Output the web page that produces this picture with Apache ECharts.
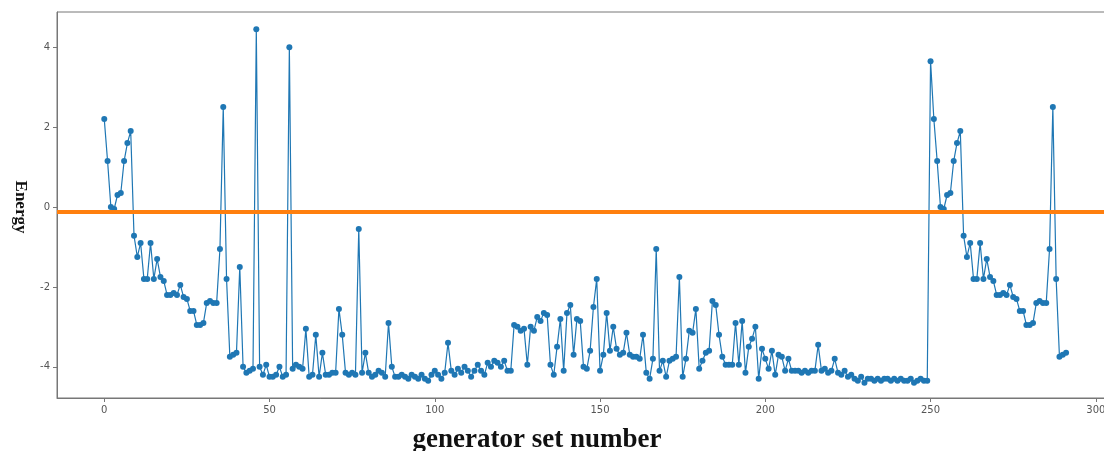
<!DOCTYPE html>
<html>
<head>
<meta charset="utf-8">
<script src="https://cdn.jsdelivr.net/npm/echarts@6/dist/echarts.min.js"></script>
<style>
html,body{margin:0;padding:0;background:#fff;overflow:hidden;width:1104px;height:451px;}
#c{width:1114px;height:451px;}
</style>
</head>
<body>
<div id="c"></div>
<script>
// ---- data ----
const xTicks = [0, 50, 100, 150, 200, 250, 300];
const yTicks = [-4, -2, 0, 2, 4];
const thresholdValue = -0.12;
// generator sets 0..49
const energyPart1 = [2.2, 1.15, 0.0, -0.05, 0.3, 0.35, 1.15, 1.6, 1.9, -0.72,
  -1.25, -0.9, -1.8, -1.8, -0.9, -1.8, -1.3, -1.75, -1.85, -2.2,
  -2.2, -2.15, -2.2, -1.95, -2.25, -2.3, -2.6, -2.6, -2.95, -2.95,
  -2.9, -2.4, -2.35, -2.4, -2.4, -1.05, 2.5, -1.8, -3.75, -3.7,
  -3.65, -1.5, -4.0, -4.15, -4.1, -4.05, 4.45, -4.0, -4.2, -3.95];
// 50..99
const energyPart2 = [-4.25, -4.25, -4.2, -4.0, -4.25, -4.2, 4.0, -4.05, -3.95, -4.0,
  -4.05, -3.05, -4.25, -4.2, -3.2, -4.25, -3.65, -4.2, -4.2, -4.15,
  -4.15, -2.55, -3.2, -4.15, -4.2, -4.15, -4.2, -0.55, -4.15, -3.65,
  -4.15, -4.25, -4.2, -4.1, -4.15, -4.25, -2.9, -4.0, -4.25, -4.25,
  -4.2, -4.25, -4.3, -4.2, -4.25, -4.3, -4.2, -4.3, -4.35, -4.2];
// 100..149
const energyPart3 = [-4.1, -4.2, -4.3, -4.15, -3.4, -4.1, -4.2, -4.05, -4.15, -4.0,
  -4.1, -4.25, -4.1, -3.95, -4.1, -4.2, -3.9, -4.0, -3.85, -3.9,
  -4.0, -3.85, -4.1, -4.1, -2.95, -3.0, -3.1, -3.05, -3.95, -3.0,
  -3.1, -2.75, -2.85, -2.65, -2.7, -3.95, -4.2, -3.5, -2.8, -4.1,
  -2.65, -2.45, -3.7, -2.8, -2.85, -4.0, -4.05, -3.6, -2.5, -1.8];
// 150..199
const energyPart4 = [-4.1, -3.7, -2.65, -3.6, -3.0, -3.55, -3.7, -3.65, -3.15, -3.7,
  -3.75, -3.75, -3.8, -3.2, -4.15, -4.3, -3.8, -1.05, -4.1, -3.85,
  -4.25, -3.85, -3.8, -3.75, -1.75, -4.25, -3.8, -3.1, -3.15, -2.55,
  -4.05, -3.85, -3.65, -3.6, -2.35, -2.45, -3.2, -3.75, -3.95, -3.95,
  -3.95, -2.9, -3.95, -2.85, -4.15, -3.5, -3.3, -3.0, -4.3, -3.55];
// 200..250
const energyPart5 = [-3.8, -4.05, -3.6, -4.2, -3.7, -3.75, -4.1, -3.8, -4.1, -4.1,
  -4.1, -4.15, -4.1, -4.15, -4.1, -4.1, -3.45, -4.1, -4.05, -4.15,
  -4.1, -3.8, -4.15, -4.2, -4.1, -4.25, -4.2, -4.3, -4.35, -4.25,
  -4.4, -4.3, -4.3, -4.35, -4.3, -4.35, -4.3, -4.3, -4.35, -4.3,
  -4.35, -4.3, -4.35, -4.35, -4.3, -4.4, -4.35, -4.3, -4.35, -4.35,
  3.65];
// 251..291
const energyPart6 = [2.2, 1.15, 0.0, -0.05, 0.3, 0.35, 1.15, 1.6, 1.9, -0.72,
  -1.25, -0.9, -1.8, -1.8, -0.9, -1.8, -1.3, -1.75, -1.85, -2.2,
  -2.2, -2.15, -2.2, -1.95, -2.25, -2.3, -2.6, -2.6, -2.95, -2.95,
  -2.9, -2.4, -2.35, -2.4, -2.4, -1.05, 2.5, -1.8, -3.75, -3.7,
  -3.65];

const energy = [].concat(energyPart1, energyPart2, energyPart3, energyPart4, energyPart5, energyPart6);
const seriesData = energy.map((v, i) => [i, v]);

const chart = echarts.init(document.getElementById('c'), null, {renderer: 'canvas'});
const tickFont = {fontFamily: 'DejaVu Sans', fontSize: 10, color: '#555'};
const axisLineStyle = {color: '#777', width: 1};

chart.setOption({
  animation: false,
  backgroundColor: '#ffffff',
  grid: {left: 57, right: 1, top: 12, bottom: 53, show: true, borderColor: '#777', borderWidth: 1,
         containLabel: false, outerBoundsMode: 'none'},
  xAxis: {
    type: 'value', min: -14.3, max: 305.2,
    axisLine: {show: true, onZero: false, lineStyle: axisLineStyle},
    axisTick: {show: true, length: 4, lineStyle: axisLineStyle, customValues: xTicks},
    axisLabel: Object.assign({margin: 7, customValues: xTicks, showMaxLabel: true}, tickFont),
    splitLine: {show: false}
  },
  yAxis: {
    type: 'value', min: -4.78, max: 4.88,
    axisLine: {show: true, onZero: false, lineStyle: axisLineStyle},
    axisTick: {show: true, length: 4, lineStyle: axisLineStyle, customValues: yTicks},
    axisLabel: Object.assign({margin: 7, customValues: yTicks}, tickFont),
    splitLine: {show: false}
  },
  series: [
    {
      name: 'energy', type: 'line', data: seriesData,
      symbol: 'circle', symbolSize: 6, showSymbol: true,
      lineStyle: {color: '#1f77b4', width: 1.2},
      itemStyle: {color: '#1f77b4'},
      z: 2,
      markLine: {
        silent: true, symbol: ['none', 'none'], label: {show: false},
        lineStyle: {color: '#ff7f0e', width: 4, type: 'solid'},
        data: [{yAxis: thresholdValue}],
        z: 5
      }
    }
  ],
  graphic: [
    {type: 'text', x: 20, y: 207, rotation: -Math.PI / 2,
     style: {text: 'Energy', font: 'bold 17px "Liberation Serif"', fill: '#111', align: 'center', verticalAlign: 'middle'}},
    {type: 'text', x: 537, y: 440,
     style: {text: 'generator set number', font: 'bold 27px "Liberation Serif"', fill: '#111', align: 'center', verticalAlign: 'middle'}}
  ]
});
</script>
</body>
</html>
